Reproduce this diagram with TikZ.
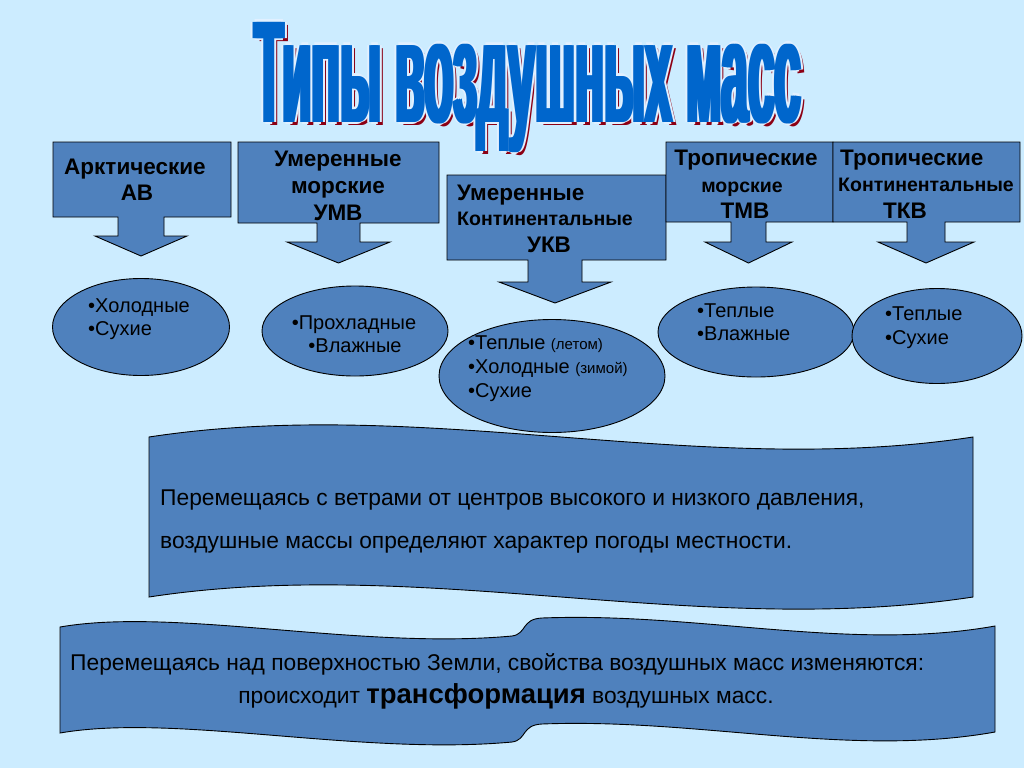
\documentclass[tikz,border=0pt]{standalone}
\usepackage{fontspec}
\setmainfont{Liberation Sans}
\usetikzlibrary{shapes.geometric}
\newfontface\ttlfont{Liberation Sans Bold}
\definecolor{bg}{RGB}{204,236,255}
\definecolor{boxblue}{RGB}{79,129,189}
\definecolor{titleblue}{RGB}{0,102,204}
\definecolor{titlered}{RGB}{140,0,20}
\definecolor{titlepale}{RGB}{225,240,255}
\newcommand\ttltext{\resizebox{547pt}{100pt}{\ttlfont Типы воздушных масс}}
\newcommand\ttllayer[3]{\rlap{\kern#1pt\raisebox{#2pt}{\color{#3}\ttltext}}}
\begin{document}
\begin{tikzpicture}[x=1pt,y=-1pt,
  shp/.style={fill=boxblue,draw=black,line width=0.9pt,line join=miter},
  ell/.style={ellipse,fill=boxblue,draw=black,line width=0.9pt,inner sep=0pt},
  bt/.style={font=\fontsize{22.5}{26}\selectfont\bfseries,inner sep=0pt,anchor=base},
  bts/.style={font=\fontsize{19.5}{23}\selectfont\bfseries,inner sep=0pt,anchor=base},
  rt/.style={font=\fontsize{20}{24}\selectfont,inner sep=0pt,anchor=base},
  lt/.style={font=\fontsize{20}{24}\selectfont,inner sep=0pt,anchor=base west},
  bant/.style={font=\fontsize{22.8}{27}\selectfont,inner sep=0pt,anchor=base west},
  ttl/.style={inner sep=0pt,anchor=base}]
\useasboundingbox (0,0) rectangle (1024,768);
\fill[bg] (0,0) rectangle (1024,768);

% title: dark red shadow, pale rim, blue face (one node)
\node[ttl] (title) at (528,122) {%
  \ttllayer{5}{-3}{titlered}%
  \ttllayer{-4}{0}{titlepale}\ttllayer{4}{0}{titlepale}%
  \ttllayer{0}{2}{titlepale}\ttllayer{0}{-2}{titlepale}%
  \ttllayer{-2}{0}{titleblue}\ttllayer{2}{0}{titleblue}%
  {\color{titleblue}\ttltext}};

% callouts
\draw[shp] (53,142) -- (231,142) -- (231,217) -- (164,217) -- (164,236) -- (187,236) -- (141,256) -- (95,236) -- (118,236) -- (118,217) -- (53,217) -- cycle;
\draw[shp] (238,142) -- (439,142) -- (439,223) -- (360,223) -- (360,242) -- (390,242) -- (338.5,263) -- (287,242) -- (317,242) -- (317,223) -- (238,223) -- cycle;
\draw[shp] (447,175) -- (666,175) -- (666,260) -- (582,260) -- (582,282) -- (611,282) -- (555,303) -- (499,282) -- (528,282) -- (528,260) -- (447,260) -- cycle;
\draw[shp] (666,142) -- (833,142) -- (833,222) -- (766,222) -- (766,242) -- (792,242) -- (748.5,263) -- (705,242) -- (731,242) -- (731,222) -- (666,222) -- cycle;
\draw[shp] (833,142) -- (1020,142) -- (1020,222) -- (945,222) -- (945,242) -- (974,242) -- (926,263) -- (878,242) -- (907,242) -- (907,222) -- (833,222) -- cycle;

% callout texts
\node[bt] (a1) at (135,174) {Арктические};
\node[bt] (a2) at (137,200) {АВ};
\node[bt] (b1) at (338,166) {Умеренные};
\node[bt] (b2) at (338,193) {морские};
\node[bt] (b3) at (338,220) {УМВ};
\node[bt,anchor=base west] (c1) at (457,200) {Умеренные};
\node[bts,anchor=base west] (c2) at (457,225) {Континентальные};
\node[bt] (c3) at (549,252) {УКВ};
\node[bt] (d1) at (746,165) {Тропические};
\node[bts] (d2) at (742,192) {морские};
\node[bt] (d3) at (745,218) {ТМВ};
\node[bt,anchor=base west] (f1) at (840,165) {Тропические};
\node[bts,anchor=base west] (f2) at (838,191) {Континентальные};
\node[bt] (f3) at (905,218) {ТКВ};

% banners
\draw[shp] (149,437) .. controls (424,395) and (698,479) .. (973,437) -- (973,597) .. controls (698,639) and (424,555) .. (149,597) -- cycle;
\draw[shp] (60,627) .. controls (175,607) and (360,650) .. (512,636) .. controls (527,634) and (521,619) .. (542,618) .. controls (700,612) and (850,652) .. (995,626) -- (995,732) .. controls (850,758) and (700,718) .. (542,724) .. controls (521,725) and (527,740) .. (512,742) .. controls (360,756) and (175,713) .. (60,733) -- cycle;

% ellipses
\node[ell,minimum width=177pt,minimum height=97pt] (e1) at (141,327) {};
\node[ell,minimum width=186pt,minimum height=90pt] (e2) at (355,331) {};
\node[ell,minimum width=226pt,minimum height=113pt] (e3) at (552,376) {};
\node[ell,minimum width=196pt,minimum height=90pt] (e4) at (756,332) {};
\node[ell,minimum width=170pt,minimum height=95pt] (e5) at (937,336) {};

\node[lt] (e1a) at (88,312) {•Холодные};
\node[lt] (e1b) at (88,335) {•Сухие};
\node[rt] (e2a) at (354,329) {•Прохладные};
\node[rt] (e2b) at (355,352) {•Влажные};
\node[lt] (e3a) at (468,349) {•Теплые {\fontsize{15}{17}\selectfont(летом)}};
\node[lt] (e3b) at (468,373) {•Холодные {\fontsize{15}{17}\selectfont(зимой)}};
\node[lt] (e3c) at (468,397) {•Сухие};
\node[lt] (e4a) at (697,317) {•Теплые};
\node[lt] (e4b) at (697,340) {•Влажные};
\node[lt] (e5a) at (885,320) {•Теплые};
\node[lt] (e5b) at (885,344) {•Сухие};

% banner texts
\node[bant] (p1) at (160,505) {Перемещаясь с ветрами от центров высокого и низкого давления,};
\node[bant] (p2) at (160,548) {воздушные массы определяют характер погоды местности.};
\node[bant] (q1) at (70,670) {Перемещаясь над поверхностью Земли, свойства воздушных масс изменяются:};
\node[bant,anchor=base] (q2) at (506,703) {происходит {\fontsize{27.5}{30}\selectfont\bfseries трансформация} воздушных масс.};
\end{tikzpicture}
\end{document}
